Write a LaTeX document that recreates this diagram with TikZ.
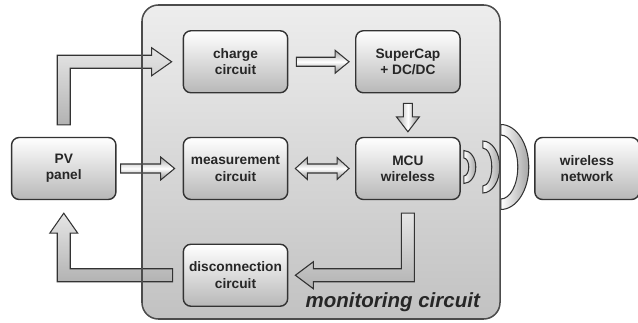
\documentclass[tikz,border=0pt]{standalone}
\usepackage{fontspec}
\setmainfont{Liberation Sans}
\usetikzlibrary{positioning, calc}

\newcommand{\blockfont}{\fontsize{11.7}{14}\selectfont\bfseries}
\newcommand{\monfont}{\fontsize{17.5}{20}\selectfont\bfseries\itshape}

\begin{document}
\begin{tikzpicture}[
    x = 0.03cm, y = 0.03cm,
    block/.style={rectangle, rounded corners=6.5pt, draw=black!80, line width=1.2pt,
                  top color=white, bottom color=black!28,
                  minimum width=3.13cm, minimum height=1.86cm,
                  align=center, font=\blockfont, text=black!85},
    monbox/.style={rectangle, rounded corners=14pt, top color=black!7, bottom color=black!24,
                   minimum width=10.74cm, minimum height=9.42cm, outer sep=0pt},
    monframe/.style={draw=black!70, line width=1.3pt, rounded corners=14pt},
    harrow/.style={draw=black!80, line width=0.9pt, top color=black!35, bottom color=black!45, middle color=white},
    varrow/.style={draw=black!80, line width=0.9pt, left color=black!35, right color=black!45, middle color=white},
    larrow/.style={draw=black!80, line width=0.9pt, top color=black!10, bottom color=black!30},
    wave/.style={draw=black!80, line width=0.9pt, left color=white, right color=black!35}
  ]
  \useasboundingbox (0,0) rectangle (638,322);
  \node[monbox] (mon) at (321,160) {};

  \node[block] (meas) at (235.5,153.5) {measurement\\circuit};
  \node[block, left=1.98cm of meas] (pv) {PV\\panel};
  \node[block, right=2cm of meas] (mcu) {MCU\\wireless};
  \node[block, above=1.3cm of meas] (charge) {charge\\circuit};
  \node[block, above=1.3cm of mcu] (supercap) {SuperCap\\+ DC/DC};
  \node[block, below=1.3cm of meas] (disc) {disconnection\\circuit};
  \node[block, right=2.2cm of mcu] (net) {wireless\\network};

  % PV -> charge
  \coordinate (a1s) at ($(pv.north)+(0,12)$);
  \coordinate (a1t) at ($(charge.west)+(-11,0)$);
  \draw[larrow] ($(a1s)+(-6.5,0)$) |- ($(a1t)+(-20,6.5)$) -- ++(0,7.5) -- (a1t)
      -- ++(-20,-14) -- ++(0,7.5) -| ($(a1s)+(6.5,0)$) -- cycle;

  % disconnection -> PV
  \coordinate (a2s) at ($(disc.west)+(-10,0)$);
  \coordinate (a2t) at ($(pv.south)+(0,-13)$);
  \draw[larrow] ($(a2s)+(0,6.5)$) -| ($(a2t)+(6.5,-20)$) -- ++(7.5,0) -- (a2t)
      -- ++(-14,-20) -- ++(7.5,0) |- ($(a2s)+(0,-6.5)$) -- cycle;

  % MCU -> disconnection
  \coordinate (a3s) at ($(mcu.south)+(0,-13)$);
  \coordinate (a3t) at ($(disc.east)+(7,0)$);
  \draw[larrow] ($(a3s)+(-6.5,0)$) |- ($(a3t)+(18,6.5)$) -- ++(0,7) -- (a3t)
      -- ++(18,-13.5) -- ++(0,7) -| ($(a3s)+(6.5,0)$) -- cycle;

  % PV -> measurement
  \coordinate (a4s) at ($(pv.east)+(4,0)$);
  \coordinate (a4t) at ($(meas.west)+(-8,0)$);
  \draw[harrow] ($(a4s)+(0,4.5)$) -- ($(a4t)+(-14,4.5)$) -- ++(0,7) -- (a4t)
      -- ++(-14,-11.5) -- ++(0,7) -- ($(a4s)+(0,-4.5)$) -- cycle;

  % charge -> SuperCap
  \coordinate (a5s) at ($(charge.east)+(8,0)$);
  \coordinate (a5t) at ($(supercap.west)+(-6,0)$);
  \draw[harrow] ($(a5s)+(0,4.5)$) -- ($(a5t)+(-14,4.5)$) -- ++(0,7) -- (a5t)
      -- ++(-14,-11.5) -- ++(0,7) -- ($(a5s)+(0,-4.5)$) -- cycle;

  % SuperCap -> MCU
  \coordinate (a6s) at ($(supercap.south)+(0,-10)$);
  \coordinate (a6t) at ($(mcu.north)+(0,5)$);
  \draw[varrow] ($(a6s)+(-4.5,0)$) -- ($(a6t)+(-4.5,15)$) -- ++(-7,0) -- (a6t)
      -- ++(11.5,15) -- ++(-7,0) -- ($(a6s)+(4.5,0)$) -- cycle;

  % measurement <-> MCU
  \coordinate (a7s) at ($(meas.east)+(7,0)$);
  \coordinate (a7t) at ($(mcu.west)+(-6,0)$);
  \draw[harrow] (a7s) -- ++(12,11) -- ++(0,-6.5) -- ($(a7t)+(-12,4.5)$) -- ++(0,6.5) -- (a7t)
      -- ++(-12,-11) -- ++(0,6.5) -- ($(a7s)+(12,-4.5)$) -- ++(0,-6.5) -- cycle;

  % radio waves
  \coordinate (sig) at ($(mcu.east)+(0,1.5)$);
  \foreach \dx/\ox/\oy/\ix/\iy in {3/12/16.5/5/9, 22/17/26/9/19, 40/28/42.5/17/32}
    \draw[wave] ($(sig)+(\dx,\oy)$) arc[start angle=90, end angle=-90, x radius=\ox, y radius=\oy]
      -- ++(0,\oy-\iy) arc[start angle=-90, end angle=90, x radius=\ix, y radius=\iy] -- cycle;

  \draw[monframe] (mon.south west) rectangle (mon.north east);
  \node[anchor=base east, font=\monfont, text=black!85] (monlabel) at (484,15) {monitoring circuit};
\end{tikzpicture}
\end{document}
